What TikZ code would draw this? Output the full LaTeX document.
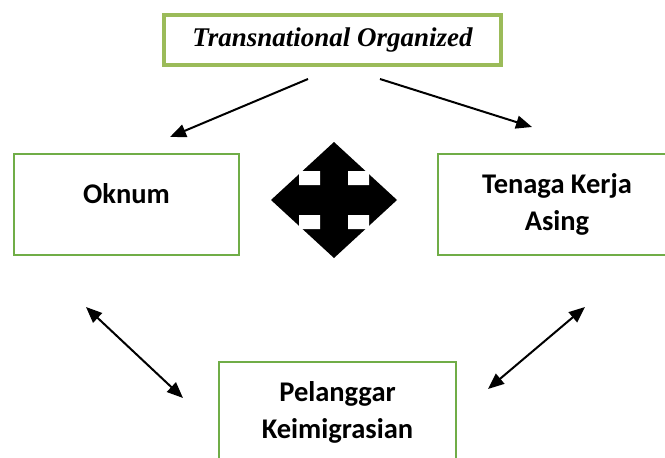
\documentclass[tikz,border=0pt]{standalone}
\usepackage{fontspec}
\setmainfont{Liberation Serif}
\newfontfamily\calibri{Carlito}
\usetikzlibrary{arrows.meta}

\definecolor{olivegreen}{HTML}{9BBB59}
\definecolor{boxgreen}{HTML}{70AD47}

\begin{document}
\begin{tikzpicture}[x=1pt,y=-1pt,
    box/.style={draw=boxgreen,line width=2pt,align=center,
        font=\calibri\bfseries\fontsize{28.5}{37.5}\selectfont},
    title/.style={draw=olivegreen,line width=4pt,minimum width=337pt,minimum height=50pt,
        font=\bfseries\itshape\fontsize{27}{32}\selectfont},
    link/.style={line width=2pt,-{Triangle[length=16pt,width=13pt]}},
    both/.style={line width=2pt,{Triangle[length=16pt,width=13pt]}-{Triangle[length=16pt,width=13pt]}}]
        \useasboundingbox (0,0) rectangle (665,458);
        %\draw[help lines] (0,0) grid[step=50] (665,458);
        \node[title] (top) at (332.5,40) {Transnational Organized};
        \node[box,minimum width=225pt,minimum height=101pt] (oknum) at (126.5,204.5) {\raisebox{11pt}[\height][\depth]{Oknum}};
        \node[box,minimum width=238pt,minimum height=101pt] (tka) at (557,204.5) {Tenaga Kerja\\Asing};
        \node[box,minimum width=237pt,minimum height=101pt] (pelanggar) at (337.5,412.5) {Pelanggar\\Keimigrasian};

        % four-way arrow in the middle
        \begin{scope}[shift={(334,200)}]
            \fill[black] (0,-58) -- (63,0) -- (0,58) -- (-63,0) -- cycle;
            \fill[white] (-35,-29) rectangle (-14,-15) (14,-29) rectangle (35,-15)
                (-35,15) rectangle (-14,29) (14,15) rectangle (35,29);
        \end{scope}

        \coordinate (t1) at (308,79);
        \coordinate (o1) at (170,137);
        \coordinate (t2) at (380,79);
        \coordinate (k1) at (532,127);
        \coordinate (o2) at (86,307);
        \coordinate (p1) at (183,398);
        \coordinate (k2) at (585,307);
        \coordinate (p2) at (488,389);
        \draw[link] (t1) -- (o1);
        \draw[link] (t2) -- (k1);
        \draw[both] (o2) -- (p1);
        \draw[both] (k2) -- (p2);
    \end{tikzpicture}
\end{document}
